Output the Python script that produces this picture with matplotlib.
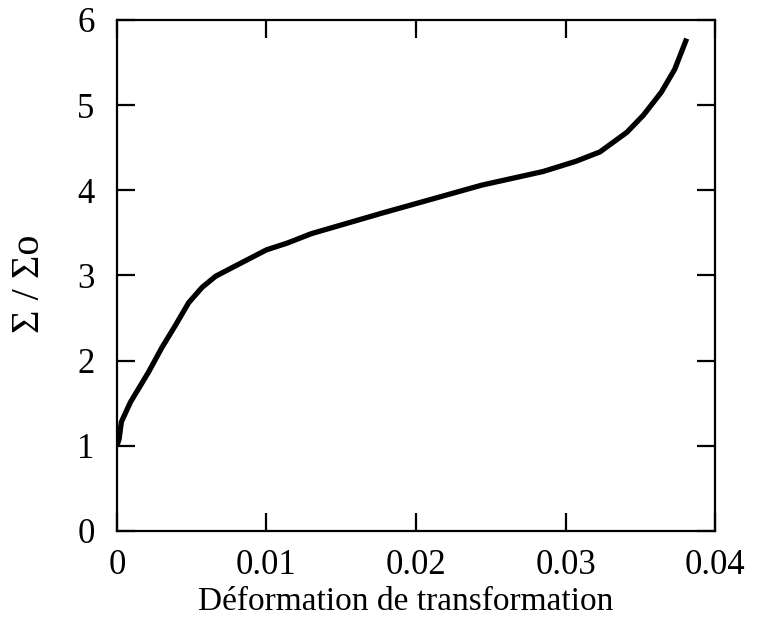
import matplotlib
matplotlib.use("Agg")
import matplotlib.pyplot as plt

# Data
strain = [0.0, 0.00015, 0.0003, 0.0009, 0.0021, 0.0030, 0.0039, 0.0048, 0.0057,
          0.0066, 0.0078, 0.0089, 0.0100, 0.0114, 0.0130, 0.0177, 0.0244, 0.0285,
          0.0307, 0.0323, 0.0341, 0.0352, 0.0364, 0.0373, 0.0381]
stress_ratio = [1.0, 1.08, 1.28, 1.51, 1.86, 2.15, 2.41, 2.68, 2.86,
                2.99, 3.10, 3.20, 3.30, 3.38, 3.49, 3.73, 4.06, 4.22,
                4.34, 4.45, 4.68, 4.88, 5.15, 5.42, 5.78]

x_ticks = [0, 0.01, 0.02, 0.03, 0.04]
x_ticklabels = ["0", "0.01", "0.02", "0.03", "0.04"]
y_ticks = [0, 1, 2, 3, 4, 5, 6]
y_ticklabels = ["0", "1", "2", "3", "4", "5", "6"]

plt.rcParams['font.family'] = ['Liberation Serif', 'DejaVu Serif']

fig = plt.figure(figsize=(7.64, 6.21), dpi=100)
ax = fig.add_axes([0.153, 0.145, 0.783, 0.823])

ax.plot(strain, stress_ratio, color='black', linewidth=3.8,
        solid_capstyle='butt', solid_joinstyle='round')

ax.set_xlim(0, 0.04)
ax.set_ylim(0, 6)
ax.set_xticks(x_ticks)
ax.set_xticklabels(x_ticklabels)
ax.set_yticks(y_ticks)
ax.set_yticklabels(y_ticklabels)

for s in ax.spines.values():
    s.set_linewidth(1.6)

ax.tick_params(axis='both', which='major', direction='in', length=13, width=1.6,
               top=True, right=True, labelsize=25)
ax.tick_params(axis='x', pad=13)
ax.tick_params(axis='y', pad=16)

ax.set_xlabel("Déformation de transformation", fontsize=24)
ax.xaxis.set_label_coords(0.482, -0.108)
ax.set_ylabel("Σ / Σo", fontsize=29)
ax.yaxis.set_label_coords(-0.115, 0.484)

fig.savefig("out.png", dpi=100)
